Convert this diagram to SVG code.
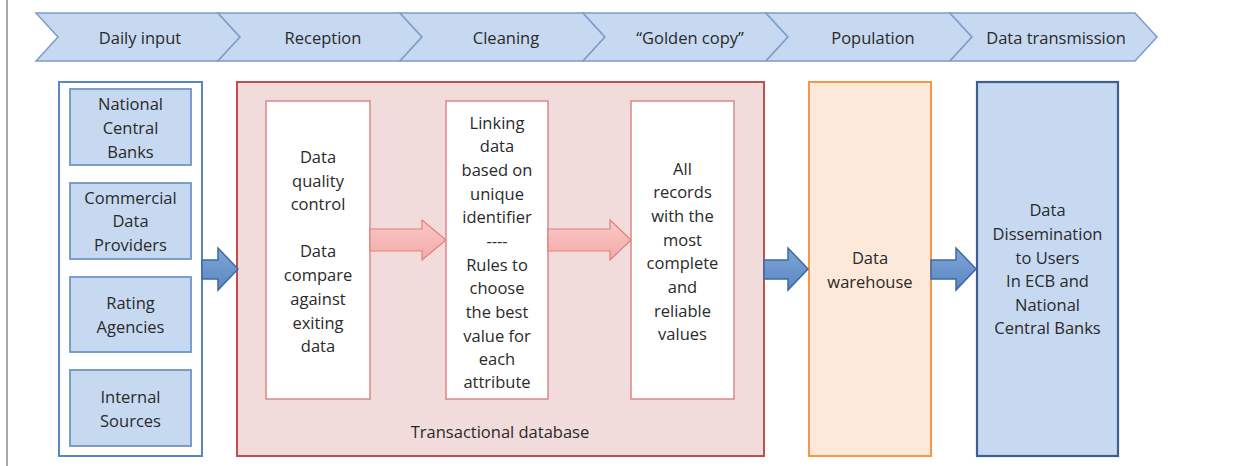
<svg xmlns="http://www.w3.org/2000/svg" width="1253" height="466" viewBox="0 0 1253 466">
<defs>
<linearGradient id="pinkGrad" x1="0" y1="0" x2="0" y2="1">
<stop offset="0" stop-color="#f9c9c8"/>
<stop offset="1" stop-color="#f4aaa8"/>
</linearGradient>
<linearGradient id="blueGrad" x1="0" y1="0" x2="0" y2="1">
<stop offset="0" stop-color="#7ea5d6"/>
<stop offset="1" stop-color="#5a88c4"/>
</linearGradient>
</defs>
<style>
text { font-family: "Open Sans", "Liberation Sans", Arial, sans-serif; font-size: 16.5px; fill: #2a2a2a; text-anchor: middle; dominant-baseline: central; }
.chev { fill: #c6d9f1; stroke: #7c9ccb; stroke-width: 1.5; }
.src { fill: #c6d9f1; stroke: #6f95c6; stroke-width: 1.8; }
.inner { fill: #ffffff; stroke: #d98886; stroke-width: 1.5; }
.pinkArrow { fill: url(#pinkGrad); stroke: #e0807e; stroke-width: 1.2; }
.blueArrow { fill: url(#blueGrad); stroke: #3e6aa3; stroke-width: 1.5; }
</style>
<rect width="1253" height="466" fill="#ffffff"/>
<line x1="7" y1="0" x2="7" y2="466" stroke="#a8a8a8" stroke-width="2"/>

<g id="phases">
<g id="phase-daily-input"><path class="chev" d="M36,13 L218,13 L240,37 L218,61 L36,61 L58,37 Z"/><text x="140" y="37">Daily input</text></g>
<g id="phase-reception"><path class="chev" d="M218,13 L400,13 L422,37 L400,61 L218,61 L240,37 Z"/><text x="323" y="37">Reception</text></g>
<g id="phase-cleaning"><path class="chev" d="M400,13 L583,13 L605,37 L583,61 L400,61 L422,37 Z"/><text x="506" y="37">Cleaning</text></g>
<g id="phase-golden"><path class="chev" d="M583,13 L766,13 L788,37 L766,61 L583,61 L605,37 Z"/><text x="690" y="37">“Golden copy”</text></g>
<g id="phase-population"><path class="chev" d="M766,13 L950,13 L972,37 L950,61 L766,61 L788,37 Z"/><text x="873" y="37">Population</text></g>
<g id="phase-transmission"><path class="chev" d="M950,13 L1135,13 L1157,37 L1135,61 L950,61 L972,37 Z"/><text x="1056" y="37">Data transmission</text></g>
</g>

<g id="sources">
<rect x="59" y="82" width="143" height="374" fill="#ffffff" stroke="#5b87c0" stroke-width="2"/>
<g id="src-ncb"><rect class="src" x="70" y="89" width="121" height="76"/><text x="130.5" y="103">National</text><text x="130.5" y="127">Central</text><text x="130.5" y="151">Banks</text></g>
<g id="src-cdp"><rect class="src" x="70" y="183" width="121" height="76"/><text x="130.5" y="197">Commercial</text><text x="130.5" y="220">Data</text><text x="130.5" y="244">Providers</text></g>
<g id="src-rating"><rect class="src" x="70" y="277" width="121" height="75"/><text x="130.5" y="302">Rating</text><text x="130.5" y="326">Agencies</text></g>
<g id="src-internal"><rect class="src" x="70" y="370" width="121" height="76"/><text x="130.5" y="396">Internal</text><text x="130.5" y="420">Sources</text></g>
</g>

<g id="transactional-db">
<rect x="237" y="82" width="527" height="374" fill="#f2dcdb" stroke="#c0504d" stroke-width="2"/>
<text x="500" y="431">Transactional database</text>
</g>

<g id="quality-control">
<rect class="inner" x="266" y="101" width="104" height="298"/>
<text x="318" y="156">Data</text><text x="318" y="180">quality</text><text x="318" y="203">control</text>
<text x="318" y="250">Data</text><text x="318" y="274">compare</text><text x="318" y="298">against</text><text x="318" y="322">exiting</text><text x="318" y="345">data</text>
</g>

<g id="linking">
<rect class="inner" x="446" y="101" width="102" height="298"/>
<text x="497" y="122">Linking</text><text x="497" y="145">data</text><text x="497" y="169">based on</text><text x="497" y="193">unique</text><text x="497" y="216">identifier</text><text x="497" y="240">----</text><text x="497" y="264">Rules to</text><text x="497" y="287">choose</text><text x="497" y="311">the best</text><text x="497" y="335">value for</text><text x="497" y="358">each</text><text x="497" y="381">attribute</text>
</g>

<g id="golden-records">
<rect class="inner" x="631" y="101" width="103" height="298"/>
<text x="682.5" y="168">All</text><text x="682.5" y="191">records</text><text x="682.5" y="215">with the</text><text x="682.5" y="239">most</text><text x="682.5" y="262">complete</text><text x="682.5" y="286">and</text><text x="682.5" y="310">reliable</text><text x="682.5" y="333">values</text>
</g>

<g id="data-warehouse">
<rect x="809" y="82" width="122" height="374" fill="#fde9d9" stroke="#f79646" stroke-width="2"/>
<text x="870" y="257">Data</text><text x="870" y="281">warehouse</text>
</g>

<g id="dissemination">
<rect x="977" y="82" width="141" height="374" fill="#c6d9f1" stroke="#3b5f8f" stroke-width="2.2"/>
<text x="1047.5" y="209">Data</text><text x="1047.5" y="233">Dissemination</text><text x="1047.5" y="257">to Users</text><text x="1047.5" y="280">In ECB and</text><text x="1047.5" y="304">National</text><text x="1047.5" y="327">Central Banks</text>
</g>

<g id="connectors">
<path class="blueArrow" d="M202,260 L218,260 L218,248 L238,269 L218,290 L218,279 L202,279 Z"/>
<path class="pinkArrow" d="M370,229 L422,229 L422,220 L446,240 L422,260 L422,251 L370,251 Z"/>
<path class="pinkArrow" d="M548,229 L610,229 L610,220 L631,240 L610,260 L610,251 L548,251 Z"/>
<path class="blueArrow" d="M764,260 L788,260 L788,248 L808,269 L788,290 L788,279 L764,279 Z"/>
<path class="blueArrow" d="M931,260 L956,260 L956,248 L976,269 L956,290 L956,279 L931,279 Z"/>
</g>
</svg>
